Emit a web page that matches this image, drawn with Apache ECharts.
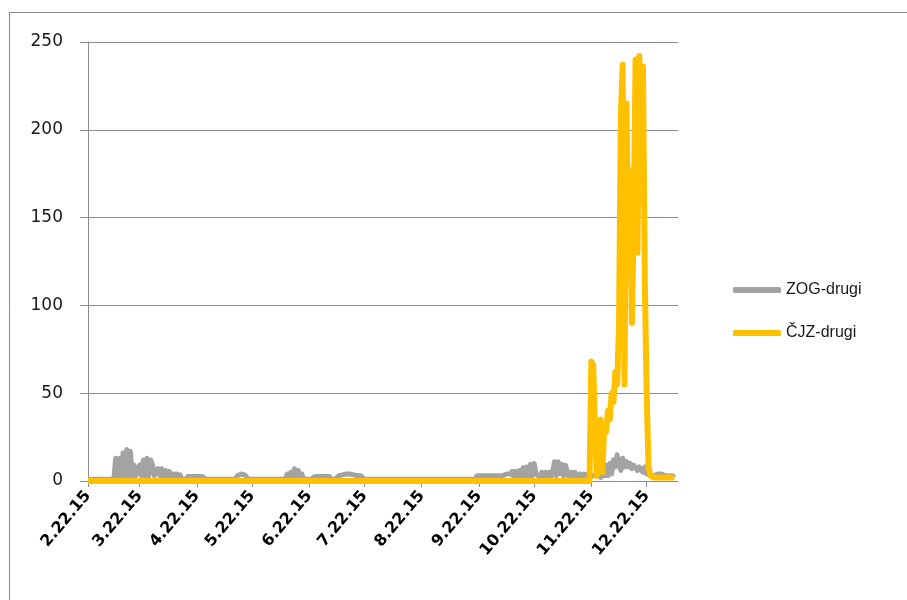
<!DOCTYPE html>
<html>
<head>
<meta charset="utf-8">
<script src="https://cdn.jsdelivr.net/npm/echarts@6/dist/echarts.min.js"></script>
<style>
  html, body { margin: 0; padding: 0; background: #ffffff; }
  #chart { width: 907px; height: 600px; }
</style>
</head>
<body>
<div id="chart"></div>
<script>
// Daily series from 22 Feb 2015; the axis runs two days past the last reading
const startDate = '2015-02-22';
const axisDays = 321;

const seriesNames = ['ZOG-drugi', 'ČJZ-drugi'];

const zogValues = [
  1,1,1,1,1,1,1,1,1,1,1,1,1,1,1,
  13,2,13,3,16,3,18,3,17,3,9,3,3,
  9,3,12,3,13,3,12,9,3,4,7,3,7,2,6,2,5.5,2,4,2,4,2,3.5,1,1,1,
  2.5,2.5,2.5,2.5,2.5,2.5,2.5,2.5,2.5,2.5,
  1,1,1,1,1,1,1,1,1,1,1,1,1,1,1,1,1,
  3,4,4,4,3.5,3,
  1,1,1,1,1,1,1,1,1,1,1,1,1,1,1,1,1,1,1,1,1,
  4,2,5,2,7,3,6,2,4,
  1,1,1,1,1,1,
  2.5,2.5,2.5,2.5,2.5,2.5,2.5,2.5,2.5,
  1,1,1,1,
  3,3,3.5,3.5,4,4,4,3.5,3.5,3,3,3,3,3,
  1,1,1,1,1,1,1,1,1,1,1,1,1,1,1,1,1,1,1,1,1,1,1,1,1,1,1,1,1,1,
  1,1,1,1,1,1,1,1,1,1,1,1,1,1,1,1,1,1,1,1,1,1,1,1,1,1,1,1,1,1,1,
  3,3,3,3,3,3,3,3,3,3,3,3,3,3,3,3,
  4,4,4,
  5.5,2,5.5,2,6,2,
  7.5,2,8,3,
  9.5,3,10,4,
  5,2,5,2,5,2,5,2,5,
  11,3,11,4,
  9.5,3,9,
  5,2,5,2,5,
  4,2,4,2,4,
  3,3,3,
  3,3,3,3,
  5,2,7,3,9,3,10,4,
  12,8,15,9,6,13,8,11,
  8,10,7,9,10,6,8,9,5,8,4,6,3,3,
  3,3,4,4,4,3,3,3,3,3,3,2
];

const cjzValues = [
  0,0,0,0,0,0,0,0,0,0,0,0,0,0,0,0,0,0,0,0,0,0,0,0,0,0,0,0,0,0,0,0,0,0,
  0,0,0,0,0,0,0,0,0,0,0,0,0,0,0,0,0,0,0,0,0,0,0,0,0,0,0,0,0,0,0,0,0,0,
  0,0,0,0,0,0,0,0,0,0,0,0,0,0,0,0,0,0,0,0,0,0,0,0,0,0,0,0,0,0,0,0,0,0,
  0,0,0,0,0,0,0,0,0,0,0,0,0,0,0,0,0,0,0,0,0,0,0,0,0,0,0,0,0,0,0,0,0,0,
  0,0,0,0,0,0,0,0,0,0,0,0,0,0,0,0,0,0,0,0,0,0,0,0,0,0,0,0,0,0,0,0,0,0,
  0,0,0,0,0,0,0,0,0,0,0,0,0,0,0,0,0,0,0,0,0,0,0,0,0,0,0,0,0,0,0,0,0,0,
  0,0,0,0,0,0,0,0,0,0,0,0,0,0,0,0,0,0,0,0,0,0,0,0,0,0,0,0,0,0,0,0,0,0,
  0,0,0,0,0,0,0,0,0,0,0,0,0,0,0,0,0,0,0,0,0,0,0,0,0,0,0,0,0,0,0,0,0,0,
  0,
  68,66,30,3,30,35,5,32,28,40,35,50,45,62,55,88,
  208,237,55,215,140,177,90,150,240,130,242,160,236,114,50,8,3,
  2,2,2,2,2,2,2,2,2,2,2,2,2
];

const yTicks = [0, 50, 100, 150, 200, 250];

// category labels in M.D.YY form, one per day
const categories = [];
{
  const d0 = new Date(startDate + 'T00:00:00Z');
  for (let i = 0; i < axisDays; i++) {
    const d = new Date(d0.getTime() + i * 86400000);
    categories.push((d.getUTCMonth() + 1) + '.' + d.getUTCDate() + '.' + String(d.getUTCFullYear()).slice(2));
  }
}
const isMonthMark = (idx, val) => String(val).split('.')[1] === '22';

const gridGrey = '#8c8c8c';
const chart = echarts.init(document.getElementById('chart'), null, { renderer: 'canvas' });
chart.setOption({
  animation: false,
  backgroundColor: '#ffffff',
  graphic: [{
    type: 'rect',
    shape: { x: 9.5, y: 12.5, width: 1000, height: 700 },
    style: { fill: 'none', stroke: '#8a8a8a', lineWidth: 1 },
    silent: true, z: -10
  }],
  grid: { left: 88, right: 229, top: 42, bottom: 119, containLabel: false },
  legend: {
    orient: 'vertical',
    left: 728, top: 277,
    itemWidth: 48, itemHeight: 6, itemGap: 27,
    icon: 'roundRect',
    textStyle: { fontFamily: 'Liberation Sans', fontSize: 16, color: '#1a1a1a' },
    data: seriesNames
  },
  xAxis: {
    type: 'category',
    data: categories,
    boundaryGap: false,
    axisLine: { show: true, lineStyle: { color: gridGrey, width: 1 } },
    axisTick: { show: true, interval: isMonthMark, length: 6, lineStyle: { color: gridGrey } },
    axisLabel: {
      interval: isMonthMark,
      rotate: 50,
      margin: 12,
      fontFamily: 'DejaVu Sans',
      fontWeight: 'bold',
      fontSize: 16,
      color: '#000000'
    },
    splitLine: { show: false }
  },
  yAxis: {
    type: 'value',
    min: yTicks[0], max: yTicks[yTicks.length - 1], interval: 50,
    axisLine: { show: true, lineStyle: { color: gridGrey, width: 1 } },
    axisTick: { show: true, length: 8, lineStyle: { color: gridGrey } },
    axisLabel: { margin: 25, fontFamily: 'DejaVu Sans', fontSize: 17, color: '#1a1a1a' },
    splitLine: { show: true, lineStyle: { color: gridGrey, width: 1 } }
  },
  series: [
    {
      name: seriesNames[0], type: 'line', data: zogValues,
      showSymbol: false, symbol: 'none',
      lineStyle: { color: '#a3a3a3', width: 5, join: 'round' },
      itemStyle: { color: '#a3a3a3' },
      z: 2
    },
    {
      name: seriesNames[1], type: 'line', data: cjzValues,
      showSymbol: false, symbol: 'none',
      lineStyle: { color: '#ffc000', width: 6, join: 'round' },
      itemStyle: { color: '#ffc000' },
      z: 3
    }
  ]
});
</script>
</body>
</html>
